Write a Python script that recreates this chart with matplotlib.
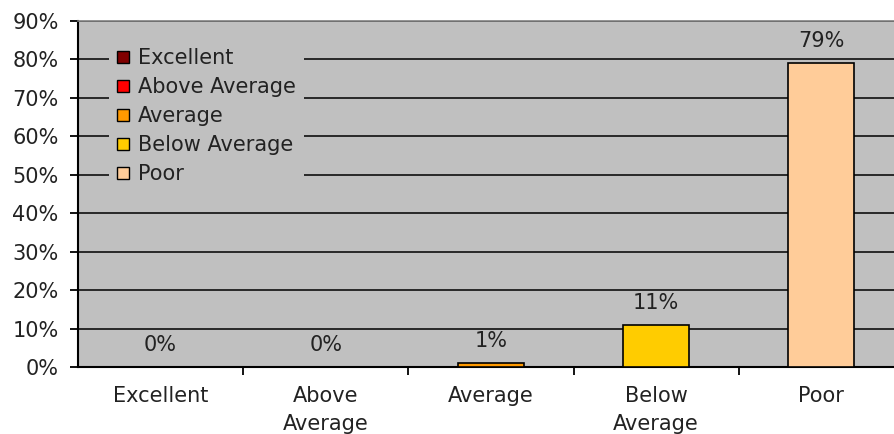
import matplotlib
matplotlib.use("Agg")
import matplotlib.pyplot as plt
from matplotlib.patches import Patch
from matplotlib.ticker import MultipleLocator, FuncFormatter

categories = ["Excellent", "Above\nAverage", "Average", "Below\nAverage", "Poor"]
legend_labels = ["Excellent", "Above Average", "Average", "Below Average", "Poor"]
values = [0, 0, 1, 11, 79]
colors = ["#800000", "#FF0000", "#FF9900", "#FFCC00", "#FFCC99"]

plt.rcParams['font.family'] = ['DejaVu Sans']
FS = 15

fig = plt.figure(figsize=(8.94, 4.34), dpi=100)
fig.patch.set_facecolor("white")
W, H = 894, 434
left_px, top_px, bottom_px = 78, 21, 367
cat_w = 165.2
ax = fig.add_axes([left_px / W, 1 - bottom_px / H, 1 - left_px / W, (bottom_px - top_px) / H])
ax.set_facecolor("#C0C0C0")

x = list(range(len(categories)))
bars = ax.bar(x, values, width=0.4, color=colors, edgecolor="black", linewidth=1.2, zorder=3)

ax.set_ylim(0, 90)
ax.set_xlim(-0.5, -0.5 + (W - left_px) / cat_w)

ax.yaxis.set_major_locator(MultipleLocator(10))
ax.yaxis.set_major_formatter(FuncFormatter(lambda v, p: f"{int(round(v))}%"))
ax.grid(axis="y", color="black", linewidth=1.1, zorder=1)
ax.set_axisbelow(True)
gls = ax.yaxis.get_gridlines()
gls[-1].set_visible(False)

ax.set_xticks(x)
ax.set_xticklabels(categories, fontsize=FS, color="#222222", linespacing=1.45)
ax.set_xticks([i + 0.5 for i in x[:-1]], minor=True)
ax.tick_params(axis="x", which="major", length=0, pad=14)
ax.tick_params(axis="x", which="minor", length=6, width=1.3, color="black")
ax.tick_params(axis="y", length=6, width=1.3, pad=8, labelsize=FS, labelcolor="#222222")

for s in ["left", "bottom"]:
    ax.spines[s].set_color("black")
    ax.spines[s].set_linewidth(1.5)
ax.spines["top"].set_color("#808080")
ax.spines["top"].set_linewidth(1.2)
ax.spines["right"].set_visible(False)

for xi, v in zip(x, values):
    ax.annotate(f"{v}%", (xi, v), xytext=(0, 22), textcoords="offset pixels",
                ha="center", va="center", fontsize=FS, color="#222222", zorder=4)

handles = [Patch(facecolor=c, edgecolor="black", linewidth=1.0) for c in colors]
leg = ax.legend(handles, legend_labels, loc="upper left",
                bbox_to_anchor=(109 / W, 1 - 40 / H), bbox_transform=fig.transFigure,
                frameon=True, facecolor="#C0C0C0", edgecolor="none", framealpha=1,
                fancybox=False, fontsize=FS, handlelength=0.55, handleheight=0.55,
                handletextpad=0.45, labelspacing=0.43, borderpad=0.4, borderaxespad=0)
for t in leg.get_texts():
    t.set_color("#222222")
leg.set_zorder(5)

fig.savefig("out.png", dpi=100)
